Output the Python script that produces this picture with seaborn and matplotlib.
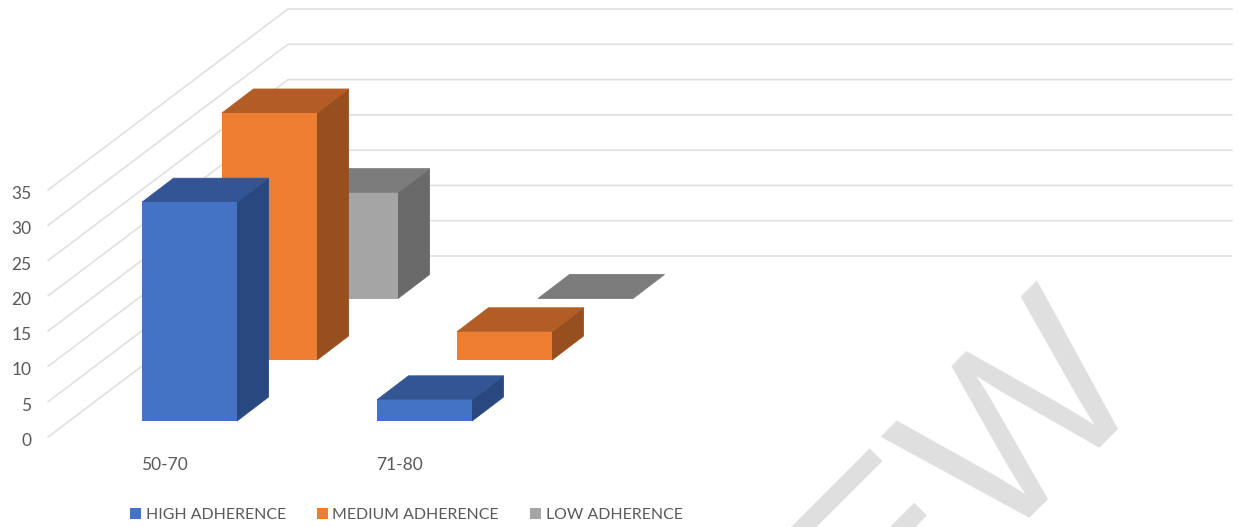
import matplotlib
matplotlib.use('Agg')
import matplotlib.pyplot as plt
import pandas as pd
import seaborn as sns
from matplotlib.patches import Polygon
from matplotlib.transforms import Affine2D, IdentityTransform

ages = ['50-70', '71-80']
series = ['HIGH ADHERENCE', 'MEDIUM ADHERENCE', 'LOW ADHERENCE']
high = [31, 3]
medium = [35, 4]
low = [15, 0]
y_ticks = [0, 5, 10, 15, 20, 25, 30, 35]

front_cols = ['#4472c4', '#ed7d31', '#a5a5a5']
top_cols = ['#335593', '#b25d25', '#7c7c7c']
side_cols = ['#2a4880', '#974f1f', '#696969']
text_col = '#595959'
grid_col = '#e0e0e0'

W, H = 1238, 527
sns.set_style('white')
plt.rcParams['font.family'] = ['Lato', 'DejaVu Sans']

fig = plt.figure(figsize=(W / 100, H / 100), dpi=100)
# floor front edge sits at y=437px, 35 is 247px above it
ax = fig.add_axes([48 / W, (H - 437) / H, (1232 - 48) / W, 247 / H])

# pixel shift of each series along the depth axis, and the depth of a bar
shift = [(21, 16), (101, 77), (182, 138.5)]
bar_depth = (31.5, 24)
wall = (240, 181)

df = pd.DataFrame({'age': ages * 3,
                   'value': high + medium + low,
                   'series': [s for s in series for _ in ages]})

handles = []
for i, name in enumerate(series):
    sns.barplot(data=df[df['series'] == name], x='age', y='value', order=ages,
                color=front_cols[i], saturation=1, width=0.404, ax=ax, linewidth=0)
    handles.append(ax.containers[i][0])

ax.set_xlim((48 - 168.5) / 235, (1232 - 168.5) / 235)
ax.set_ylim(0, 35)
ax.set_xlabel('')
ax.set_ylabel('')
ax.set_yticks(y_ticks)
sns.despine(ax=ax, left=True, bottom=True, top=True, right=True)
ax.tick_params(axis='both', length=0, labelsize=12.5, labelcolor=text_col)
ax.tick_params(axis='y', pad=12)
ax.tick_params(axis='x', pad=14.5)
for lab in ax.get_xticklabels():
    lab.set_transform(lab.get_transform() + Affine2D().translate(-4, 0))
for lab in ax.get_yticklabels():
    lab.set_transform(lab.get_transform() + Affine2D().translate(0, -2.5))

fig.canvas.draw()
to_px = ax.transData.transform

# wall and floor lines
for v in y_ticks:
    x0, y0 = to_px((ax.get_xlim()[0], v))
    ax.plot([x0, x0 + wall[0], 1232], [y0, y0 + wall[1], y0 + wall[1]],
            color=grid_col, lw=1.2, transform=IdentityTransform(), clip_on=False, zorder=1)

# faces of the bars, back series first
for i in range(3):
    z = 10 - 2 * i
    dx, dy = shift[i]
    for bar in ax.containers[i]:
        bar.set_transform(ax.transData + Affine2D().translate(dx, dy))
        bar.set_clip_on(False)
        bar.set_zorder(z + 0.5)
        x0, y0 = to_px((bar.get_x(), 0))
        x1, y1 = to_px((bar.get_x() + bar.get_width(), bar.get_height()))
        x0, x1, y0, y1 = x0 + dx, x1 + dx, y0 + dy, y1 + dy
        ox, oy = bar_depth
        side = [(x1, y0), (x1 + ox, y0 + oy), (x1 + ox, y1 + oy), (x1, y1)]
        top = [(x0, y1), (x1, y1), (x1 + ox, y1 + oy), (x0 + ox, y1 + oy)]
        if bar.get_height() > 0:
            ax.add_patch(Polygon(side, color=side_cols[i], lw=0.6, transform=IdentityTransform(),
                                 clip_on=False, zorder=z))
        ax.add_patch(Polygon(top, color=top_cols[i], lw=0.6, transform=IdentityTransform(),
                             clip_on=False, zorder=z))

fig.legend(handles, series, loc='lower left', bbox_to_anchor=(125 / W, 0), ncol=3,
           frameon=False, fontsize=11.4, labelcolor=text_col, handlelength=0.7, handleheight=0.7,
           handletextpad=0.3, columnspacing=1.95, borderaxespad=0, borderpad=0.3)

# watermark
fig.text(1105 / W, (H - 338) / H, 'PREVIEW', color='#dfdfdf', fontsize=170, rotation=45,
         rotation_mode='anchor', ha='right', va='center', zorder=0,
         family=['Liberation Sans Narrow', 'Liberation Sans'])

fig.savefig('out.png', dpi=100, facecolor='white')
